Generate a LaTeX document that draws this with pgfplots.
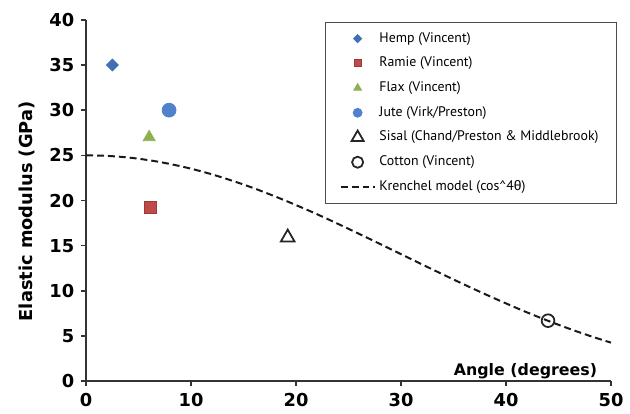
\documentclass[border=0pt]{standalone}
\usepackage{fontspec}
\setmainfont{DejaVu Sans}
\newfontfamily\legfont{PT Sans}
\newfontfamily\grkfont{Liberation Sans}
\usepackage{pgfplots}
\pgfplotsset{compat=1.18}
\definecolor{hempblue}{HTML}{3F6FB5}
\definecolor{jutblue}{HTML}{4F81CD}
\definecolor{ramred}{HTML}{BE4B48}
\definecolor{flaxgrn}{HTML}{8FB050}

\begin{document}
\begin{tikzpicture}
\begin{axis}[
    scale only axis,
    width=265pt,height=182.5pt,
    xmin=0,xmax=50,ymin=0,ymax=40,
    xtick={0,10,...,50},ytick={0,5,...,40},
    axis x line=bottom,axis y line=left,
    axis line style={-,line width=0.8pt,black!80},
    tick align=outside,
    major tick length=2.5pt,
    tick style={line width=0.8pt,black!80},
    /pgf/number format/assume math mode=true,
    tick label style={font=\fontsize{9}{10}\selectfont\bfseries},
    xlabel={Angle (degrees)},
    xlabel style={at={(rel axis cs:1,0)},anchor=base east,xshift=-3.5pt,yshift=3pt,
        font=\fontsize{8}{9}\selectfont\bfseries},
    ylabel={Elastic modulus (GPa)},
    ylabel style={at={(axis description cs:-0.113,0.47)},anchor=center,
        font=\fontsize{9}{10}\selectfont\bfseries},
    legend style={at={(rel axis cs:1,1)},anchor=north east,xshift=3pt,yshift=-1pt,
        draw=black!70,line width=0.5pt,
        font=\legfont\fontsize{7}{8}\selectfont,
        cells={anchor=west},row sep=2pt,inner xsep=7pt,inner ysep=3pt},
    clip=false,
]
% fibre data
\addplot[only marks,mark=square*,mark size=2.1pt,
    mark options={rotate=45,fill=hempblue,draw=hempblue},
    legend image post style={mark size=1.4pt}]
    coordinates {(2.5,35)};
\addplot[only marks,mark=square*,mark size=3pt,
    mark options={fill=ramred,draw=ramred!80!black},
    legend image post style={mark size=1.8pt}]
    coordinates {(6.1,19.2)};
\addplot[only marks,mark=triangle*,mark size=3.5pt,
    mark options={fill=flaxgrn,draw=flaxgrn},
    legend image post style={mark size=2.2pt}]
    coordinates {(6.0,27)};
\addplot[only marks,mark=*,mark size=3.5pt,
    mark options={fill=jutblue,draw=jutblue},
    legend image post style={mark size=2.2pt}]
    coordinates {(7.9,30)};
\addplot[only marks,mark=triangle,mark size=4pt,
    mark options={draw=black!85,line width=0.9pt},
    legend image post style={mark size=3.5pt}]
    coordinates {(19.2,15.9)};
\addplot[only marks,mark=o,mark size=3.2pt,
    mark options={draw=black!85,line width=0.9pt},
    legend image post style={mark size=2.8pt}]
    coordinates {(44,6.7)};
% Krenchel model, 25 cos^4(theta)
\addplot[black!90,line width=1pt,dash pattern=on 3.5pt off 2pt,smooth] coordinates {
    (0,25) (2,24.94) (4,24.76) (6,24.46) (8,24.04) (10,23.52) (12,22.89)
    (14,22.16) (16,21.35) (18,20.45) (20,19.49) (22,18.48) (24,17.41)
    (26,16.31) (28,15.19) (30,14.06) (32,12.93) (34,11.81) (36,10.71)
    (38,9.64) (40,8.61) (42,7.62) (44,6.69) (46,5.82) (48,5.01) (50,4.27)};
\legend{Hemp (Vincent),Ramie (Vincent),Flax (Vincent),Jute (Virk/Preston),
    Sisal (Chand/Preston \& Middlebrook),Cotton (Vincent),
    Krenchel model (cos\textasciicircum 4{\grkfont θ})}
% fix page margins to match the reference frame
\path (rel axis cs:-0.1642,-0.0877) rectangle (rel axis cs:1.0245,1.0548);
\end{axis}
\end{tikzpicture}
\end{document}
